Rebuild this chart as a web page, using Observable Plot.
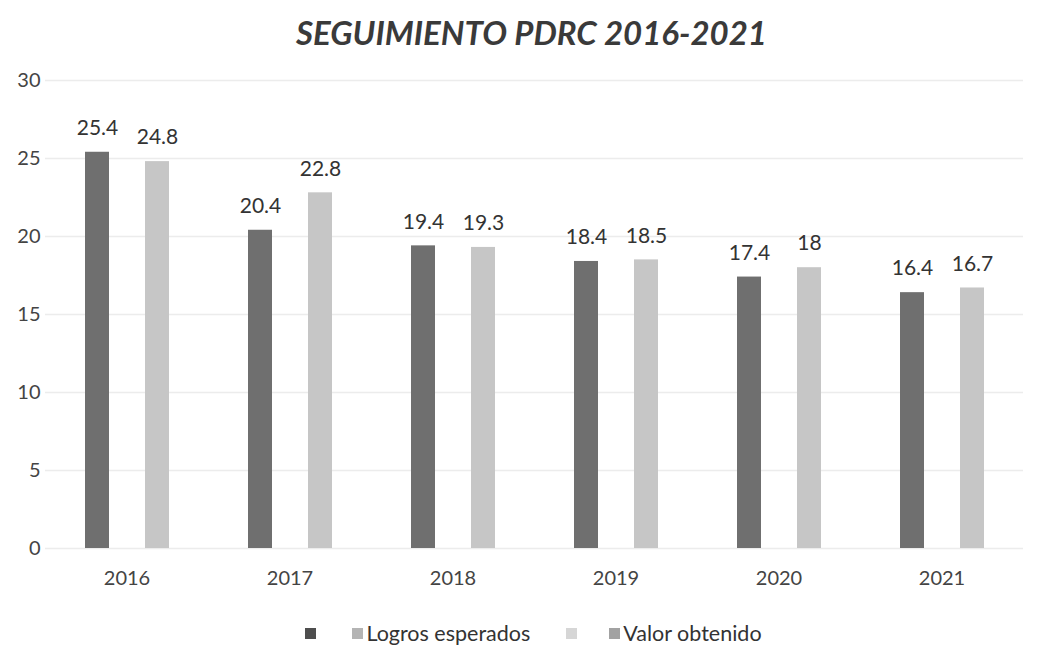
<!DOCTYPE html>
<html>
<head>
<meta charset="utf-8">
<script src="https://cdn.jsdelivr.net/npm/d3@7"></script>
<script src="https://cdn.jsdelivr.net/npm/@observablehq/plot@0.6"></script>
<style>
  html, body { margin: 0; padding: 0; background: #fff; }
  body { width: 1059px; height: 648px; overflow: hidden; font-family: Lato, "Open Sans", sans-serif; color: #404040; }
  #title { height: 60px; line-height: 64px; text-align: center; font-size: 33px; font-weight: 700; font-style: italic; color: #3a3a3a; padding-left: 4px; }
  #legend { display: flex; justify-content: center; align-items: center; height: 36px; font-size: 21.5px; color: #333; padding-left: 8px; }
  .sw { display: inline-block; width: 11px; height: 11px; }
</style>
</head>
<body>
<div id="title">SEGUIMIENTO PDRC 2016-2021</div>
<div id="chart"></div>
<div id="legend">
  <span class="sw" style="background:#4e4e4e;margin-right:36px"></span>
  <span class="sw" style="background:#b4b4b4;margin-right:3px"></span>
  <span>Logros esperados</span>
  <span class="sw" style="background:#d6d6d6;margin-left:36px;margin-right:32px"></span>
  <span class="sw" style="background:#a2a2a2;margin-right:3px"></span>
  <span>Valor obtenido</span>
</div>
<script>
const years = ["2016", "2017", "2018", "2019", "2020", "2021"];
const series = ["Logros esperados", "Valor obtenido"];
const logrosEsperados = [25.4, 20.4, 19.4, 18.4, 17.4, 16.4];
const valorObtenido = [24.8, 22.8, 19.3, 18.5, 18, 16.7];
const yTicks = [0, 5, 10, 15, 20, 25, 30];

const data = [];
years.forEach((y, i) => {
  data.push({year: y, serie: series[0], value: logrosEsperados[i]});
  data.push({year: y, serie: series[1], value: valorObtenido[i]});
});

const chart = Plot.plot({
  width: 1059,
  height: 555,
  marginTop: 20,
  marginBottom: 67,
  marginLeft: 45,
  marginRight: 36,
  style: {fontFamily: "Lato, 'Open Sans', sans-serif", color: "#404040", background: "#fff"},
  fx: {domain: years, padding: 0, label: null},
  x: {domain: series, paddingInner: 0.6, paddingOuter: 0.658, axis: null},
  y: {domain: [0, 30], ticks: yTicks, label: null},
  color: {domain: series, range: ["#6f6f6f", "#c6c6c6"]},
  marks: [
    Plot.gridY(yTicks, {stroke: "#ececec", strokeOpacity: 1, strokeWidth: 1.5}),
    Plot.axisY(yTicks, {tickSize: 0, tickPadding: 5, fontSize: 20, label: null, fill: "#444"}),
    Plot.axisFx({anchor: "bottom", tickSize: 0, tickPadding: 22, fontSize: 20, label: null, fill: "#444"}),
    Plot.barY(data, {fx: "year", x: "serie", y: "value", fill: "serie"}),
    Plot.text(data, {fx: "year", x: "serie", y: "value", text: d => String(d.value), dy: -24, fontSize: 21, fill: "#333"})
  ]
});
document.getElementById("chart").appendChild(chart);
</script>
</body>
</html>
